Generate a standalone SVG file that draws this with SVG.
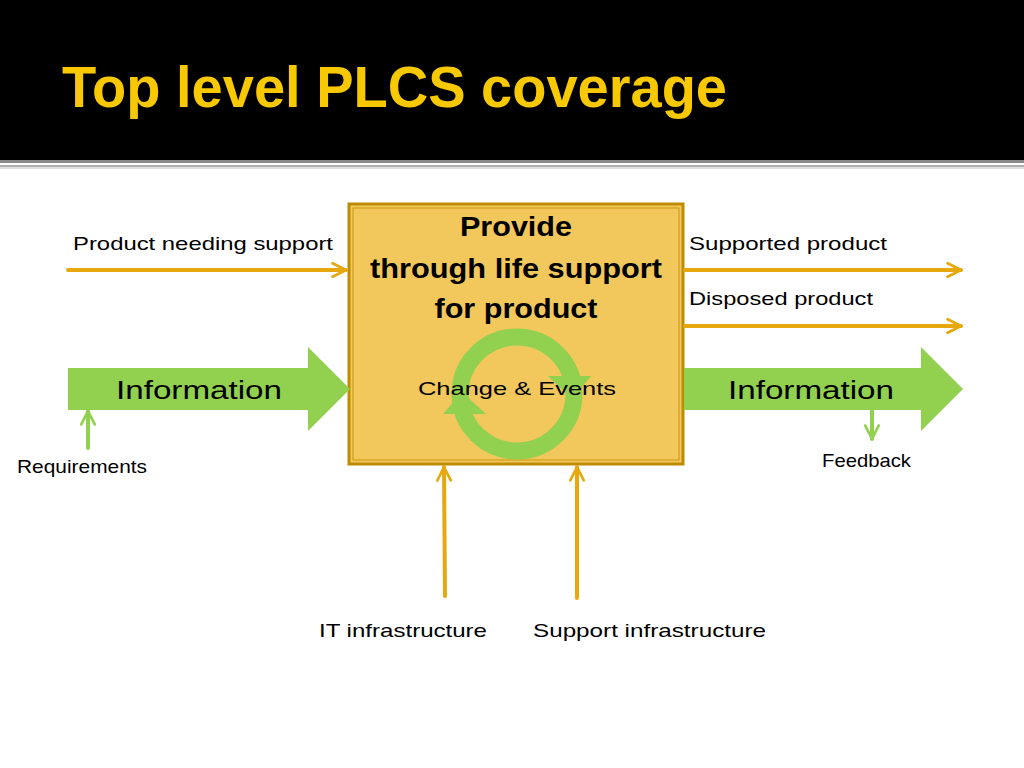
<svg xmlns="http://www.w3.org/2000/svg" width="1024" height="768" viewBox="0 0 1024 768">
<defs>
<style>
.t{font-family:"Liberation Sans",Arial,sans-serif;fill:#000}
.lbl{font-size:19px}
.big{font-size:26px}
.ttl{font-size:27px;font-weight:bold}
.or{stroke:#E6A80E;stroke-width:4;fill:none;stroke-linecap:round}
.gr{stroke:#92D050;stroke-width:4;fill:none;stroke-linecap:round}
.green{fill:#92D050}
</style>
<marker id="ah" viewBox="0 0 10 10" refX="9" refY="5" markerWidth="4.2" markerHeight="4.2" orient="auto" markerUnits="strokeWidth">
<path d="M1,1 L9,5 L1,9" fill="none" stroke="#E6A80E" stroke-width="1.6" stroke-linecap="round" stroke-linejoin="round"/>
</marker>
<marker id="ahg" viewBox="0 0 10 10" refX="9" refY="5" markerWidth="4.2" markerHeight="4.2" orient="auto" markerUnits="strokeWidth">
<path d="M1,1 L9,5 L1,9" fill="none" stroke="#92D050" stroke-width="1.6" stroke-linecap="round" stroke-linejoin="round"/>
</marker>
</defs>
<rect width="1024" height="768" fill="#fff"/>
<g id="header">
<rect x="0" y="0" width="1024" height="160" fill="#000"/>
<rect x="0" y="160" width="1024" height="3" fill="#8a8a8a"/>
<rect x="0" y="165" width="1024" height="2" fill="#b0b0b0"/>
<rect x="0" y="167" width="1024" height="2" fill="#e0e0e0"/>
<text x="62" y="107" font-family="Liberation Sans, Arial, sans-serif" font-size="58" font-weight="bold" fill="#F8C800" textLength="665" lengthAdjust="spacingAndGlyphs">Top level PLCS coverage</text>
</g>
<g id="process">
<rect x="349" y="204" width="334" height="260" fill="#F2C75C" stroke="#BF8C00" stroke-width="3"/>
<rect x="353" y="208" width="326" height="252" fill="none" stroke="#C9980F" stroke-width="1"/>
<circle cx="517" cy="394" r="57" fill="none" stroke="#92D050" stroke-width="17"/>
<polygon points="548,376 591,376 572,399" class="green"/>
<polygon points="443,414 486,414 462,392" class="green"/>
<text class="t ttl" x="516" y="236" text-anchor="middle" textLength="112" lengthAdjust="spacingAndGlyphs">Provide</text>
<text class="t ttl" x="516" y="278" text-anchor="middle" textLength="292" lengthAdjust="spacingAndGlyphs">through life support</text>
<text class="t ttl" x="516" y="318" text-anchor="middle" textLength="163" lengthAdjust="spacingAndGlyphs">for product</text>
<text class="t lbl" x="418" y="395" font-size="21" textLength="198" lengthAdjust="spacingAndGlyphs">Change &amp; Events</text>
</g>
<g id="info-in">
<polygon points="68,368 308,368 308,347 350,389 308,431 308,410 68,410" class="green"/>
<text class="t big" x="116" y="399" textLength="166" lengthAdjust="spacingAndGlyphs">Information</text>
</g>
<g id="info-out">
<polygon points="684,368 921,368 921,347 963,389 921,431 921,410 684,410" class="green"/>
<text class="t big" x="728" y="399" textLength="166" lengthAdjust="spacingAndGlyphs">Information</text>
</g>
<g id="labels">
<text class="t lbl" x="73" y="250" textLength="260" lengthAdjust="spacingAndGlyphs">Product needing support</text>
<text class="t lbl" x="689" y="250" textLength="198" lengthAdjust="spacingAndGlyphs">Supported product</text>
<text class="t lbl" x="689" y="305" textLength="184" lengthAdjust="spacingAndGlyphs">Disposed product</text>
<text class="t lbl" x="17" y="473" font-size="17" textLength="130" lengthAdjust="spacingAndGlyphs">Requirements</text>
<text class="t lbl" x="822" y="467" font-size="17" textLength="89" lengthAdjust="spacingAndGlyphs">Feedback</text>
<text class="t lbl" x="319" y="637" textLength="168" lengthAdjust="spacingAndGlyphs">IT infrastructure</text>
<text class="t lbl" x="533" y="637" textLength="233" lengthAdjust="spacingAndGlyphs">Support infrastructure</text>
</g>
<g id="connectors">
<line class="or" x1="68" y1="270" x2="346" y2="270" marker-end="url(#ah)"/>
<line class="or" x1="685" y1="270" x2="961" y2="270" marker-end="url(#ah)"/>
<line class="or" x1="685" y1="326" x2="961" y2="326" marker-end="url(#ah)"/>
<line class="or" x1="445" y1="596" x2="444" y2="467" marker-end="url(#ah)"/>
<line class="or" x1="577" y1="598" x2="577" y2="467" marker-end="url(#ah)"/>
<line class="gr" x1="88" y1="448" x2="88" y2="411" marker-end="url(#ahg)"/>
<line class="gr" x1="872" y1="410" x2="872" y2="439" marker-end="url(#ahg)"/>
</g>
</svg>
